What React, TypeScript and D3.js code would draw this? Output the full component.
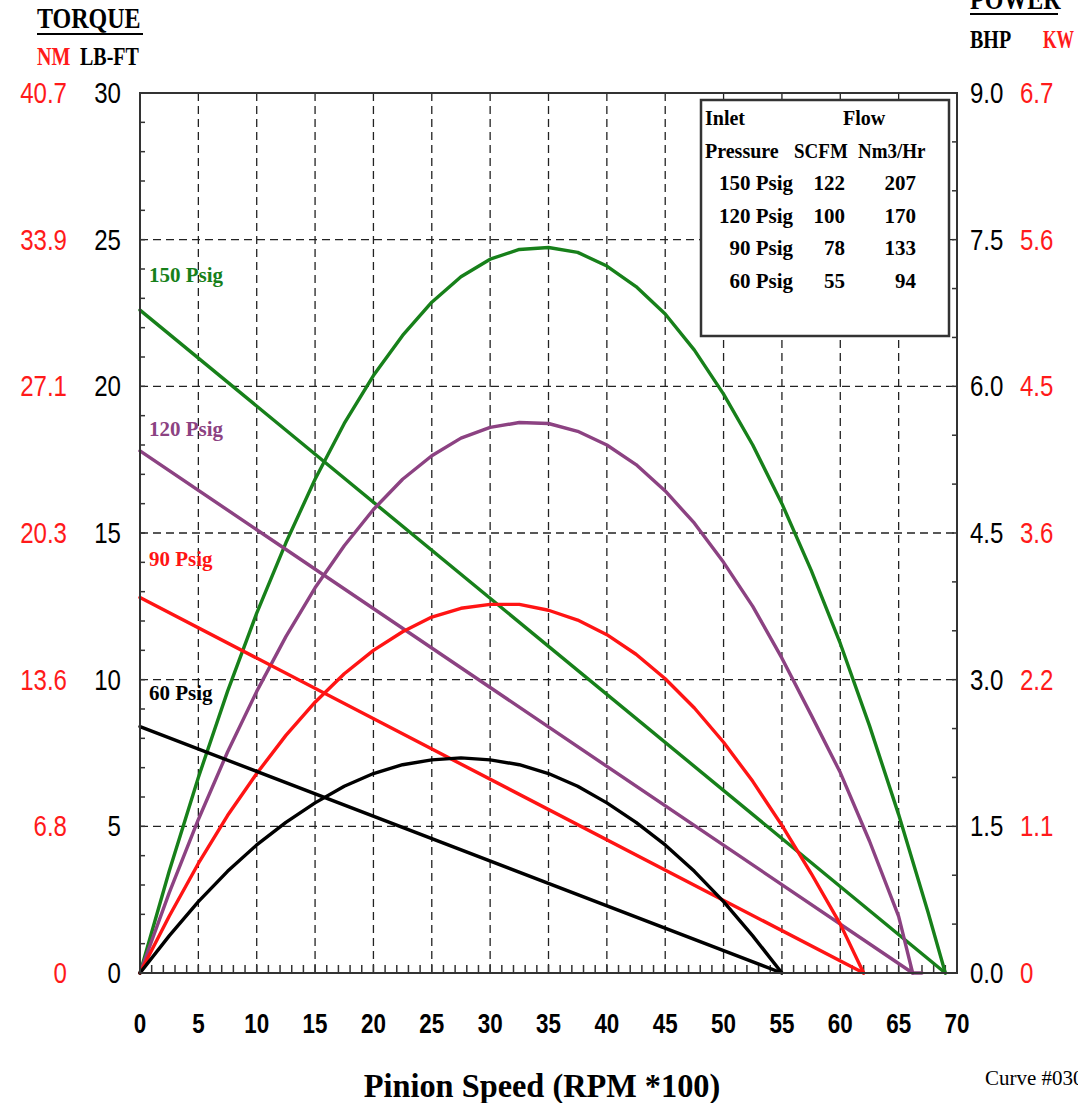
import * as d3 from "d3";

// speed in RPM*100, torque in LB-FT, power in BHP
const speedTicks = [0, 5, 10, 15, 20, 25, 30, 35, 40, 45, 50, 55, 60, 65, 70];
const torqueTicks = [0, 5, 10, 15, 20, 25, 30];
const nmLabels = ["0", "6.8", "13.6", "20.3", "27.1", "33.9", "40.7"];
const bhpLabels = ["0.0", "1.5", "3.0", "4.5", "6.0", "7.5", "9.0"];
const kwLabels = ["0", "1.1", "2.2", "3.6", "4.5", "5.6", "6.7"];

const pressures = ["150 Psig", "120 Psig", "90 Psig", "60 Psig"];
const scfm = [122, 100, 78, 55];
const nm3hr = [207, 170, 133, 94];

const torque150 = [[0, 22.6], [69, 0]];
const torque120 = [[0, 17.8], [66.2, 0]];
const torque90 = [[0, 12.8], [62, 0]];
const torque60 = [[0, 8.4], [55, 0]];

const power150 = [[0, 0], [2.5, 1.04], [5, 2.0], [7.5, 2.88], [10, 3.68], [12.5, 4.4], [15, 5.05], [17.5, 5.62], [20, 6.11], [22.5, 6.52], [25, 6.86], [27.5, 7.12], [30, 7.3], [32.5, 7.4], [35, 7.42], [37.5, 7.37], [40, 7.23], [42.5, 7.02], [45, 6.74], [47.5, 6.37], [50, 5.92], [52.5, 5.4], [55, 4.8], [57.5, 4.12], [60, 3.37], [62.5, 2.53], [65, 1.62], [67.5, 0.63], [69, 0]];
const power120 = [[0, 0], [2.5, 0.82], [5, 1.57], [7.5, 2.26], [10, 2.88], [12.5, 3.44], [15, 3.94], [17.5, 4.37], [20, 4.74], [22.5, 5.05], [25, 5.29], [27.5, 5.47], [30, 5.58], [32.5, 5.63], [35, 5.62], [37.5, 5.54], [40, 5.4], [42.5, 5.2], [45, 4.93], [47.5, 4.6], [50, 4.2], [52.5, 3.75], [55, 3.22], [57.5, 2.64], [60, 2.05], [62.5, 1.35], [65, 0.58], [66.2, 0], [67, 0]];
const power90 = [[0, 0], [2.5, 0.58], [5, 1.12], [7.5, 1.61], [10, 2.04], [12.5, 2.43], [15, 2.77], [17.5, 3.06], [20, 3.3], [22.5, 3.49], [25, 3.64], [27.5, 3.73], [30, 3.77], [32.5, 3.77], [35, 3.71], [37.5, 3.61], [40, 3.46], [42.5, 3.26], [45, 3.01], [47.5, 2.71], [50, 2.36], [52.5, 1.96], [55, 1.51], [57.5, 1.02], [60, 0.5], [62, 0]];
const power60 = [[0, 0], [2.5, 0.38], [5, 0.73], [7.5, 1.04], [10, 1.31], [12.5, 1.54], [15, 1.74], [17.5, 1.91], [20, 2.04], [22.5, 2.13], [25, 2.18], [27.5, 2.2], [30, 2.18], [32.5, 2.13], [35, 2.04], [37.5, 1.91], [40, 1.74], [42.5, 1.54], [45, 1.31], [47.5, 1.04], [50, 0.73], [52.5, 0.38], [55, 0]];

const series = [
  { name: "150 Psig", color: "#17801a", torque: torque150, power: power150, labelY: 282 },
  { name: "120 Psig", color: "#8c4282", torque: torque120, power: power120, labelY: 436 },
  { name: "90 Psig", color: "#ff1414", torque: torque90, power: power90, labelY: 566 },
  { name: "60 Psig", color: "#000000", torque: torque60, power: power60, labelY: 700 },
];

const SERIF = "'Liberation Serif', 'DejaVu Serif', serif";
const SANS = "'Liberation Sans', Arial, sans-serif";
const RED = "#ff1a1a";

function T({ x, y, size, fill = "#000", anchor = "start", family = SERIF, weight = "bold", sx = 0.8, children }: any) {
  return (
    <text
      transform={`translate(${x},${y}) scale(${sx},1)`}
      fontSize={size}
      fill={fill}
      textAnchor={anchor}
      fontFamily={family}
      fontWeight={weight}
    >
      {children}
    </text>
  );
}

export default function App() {
  const width = 1078;
  const height = 1103;
  const left = 140, right = 957, top = 93, bottom = 973;

  const x = d3.scaleLinear().domain([0, 70]).range([left, right]);
  const yT = d3.scaleLinear().domain([0, 30]).range([bottom, top]);
  const yP = d3.scaleLinear().domain([0, 9]).range([bottom, top]);

  const torqueLine = d3.line<number[]>().x((d) => x(d[0])).y((d) => yT(d[1]));
  const powerLine = d3.line<number[]>().x((d) => x(d[0])).y((d) => yP(d[1]));

  const gridX = speedTicks.filter((d) => d > 0 && d < 70);
  const gridY = torqueTicks.filter((d) => d > 0 && d < 30);

  const legX = 701, legY = 100, legW = 248, legH = 236;

  return (
    <svg
      width={width}
      height={height}
      style={{ position: "absolute", left: 0, top: 0, background: "#fff" }}
    >
      <rect width={width} height={height} fill="#fff" />

      {/* grid */}
      <g stroke="#222" strokeWidth={1.3} strokeDasharray="8,5">
        {gridX.map((d) => (
          <line key={"gx" + d} x1={x(d)} x2={x(d)} y1={top} y2={bottom} />
        ))}
        {gridY.map((d) => (
          <line key={"gy" + d} x1={left} x2={right} y1={yT(d)} y2={yT(d)} />
        ))}
      </g>

      {/* minor ticks */}
      <g stroke="#333" strokeWidth={1.5}>
        {d3.range(1, 70).map((d) => (
          <line key={"tx" + d} x1={x(d)} x2={x(d)} y1={bottom} y2={bottom - 8} />
        ))}
        {d3.range(1, 30).map((d) => (
          <line key={"tl" + d} x1={left} x2={left + 5} y1={yT(d)} y2={yT(d)} />
        ))}
        {d3.range(0.5, 9, 0.5).map((d) => (
          <line key={"tr" + d} x1={right} x2={right - 5} y1={yP(d)} y2={yP(d)} />
        ))}
      </g>

      {/* legend box */}
      <rect x={legX} y={legY} width={legW} height={legH} fill="#fff" stroke="#333" strokeWidth={2.5} />
      <T x={705} y={125} size={20} sx={1}>Inlet</T>
      <T x={843} y={125} size={20} sx={1}>Flow</T>
      <T x={705} y={158} size={20} sx={1}>Pressure</T>
      <T x={794} y={158} size={20} sx={0.95}>SCFM</T>
      <T x={858} y={158} size={20} sx={0.95}>Nm3/Hr</T>
      {pressures.map((p, i) => (
        <g key={p}>
          <T x={793} y={190 + i * 32.7} size={20} sx={1.05} anchor="end">{p}</T>
          <T x={845} y={190 + i * 32.7} size={20} sx={1.05} anchor="end">{scfm[i]}</T>
          <T x={916} y={190 + i * 32.7} size={20} sx={1.05} anchor="end">{nm3hr[i]}</T>
        </g>
      ))}

      {/* curves */}
      <g fill="none" strokeWidth={3.4} strokeLinejoin="round" strokeLinecap="round">
        {series.map((s) => (
          <g key={s.name} stroke={s.color}>
            <path d={torqueLine(s.torque) || ""} />
            <path d={powerLine(s.power) || ""} />
          </g>
        ))}
      </g>

      {/* curve labels */}
      {series.map((s) => (
        <T key={"lab" + s.name} x={149} y={s.labelY} size={20} sx={1.05} fill={s.color}>
          {s.name}
        </T>
      ))}

      {/* frame */}
      <rect x={left} y={top} width={right - left} height={bottom - top} fill="none" stroke="#333" strokeWidth={2} />

      {/* left axis labels */}
      {torqueTicks.map((d, i) => (
        <g key={"ly" + d}>
          <T x={121} y={yT(d) + 10} size={29} anchor="end" family={SANS} weight="normal" sx={0.83}>{d}</T>
          <T x={67} y={yT(d) + 10} size={29} anchor="end" family={SANS} weight="normal" sx={0.83} fill={RED}>{nmLabels[i]}</T>
        </g>
      ))}
      {/* right axis labels */}
      {bhpLabels.map((b, i) => (
        <g key={"ry" + b}>
          <T x={970} y={yT(torqueTicks[i]) + 10} size={29} family={SANS} weight="normal" sx={0.83}>{b}</T>
          <T x={1020} y={yT(torqueTicks[i]) + 10} size={29} family={SANS} weight="normal" sx={0.83} fill={RED}>{kwLabels[i]}</T>
        </g>
      ))}
      {/* x axis labels */}
      {speedTicks.map((d) => (
        <T key={"xl" + d} x={x(d)} y={1033} size={27} anchor="middle" family={SANS} weight="bold" sx={0.83}>{d}</T>
      ))}

      {/* headers */}
      <T x={37} y={28} size={30}>TORQUE</T>
      <line x1={37} x2={143} y1={34} y2={34} stroke="#000" strokeWidth={2} />
      <T x={37} y={65} size={25} fill={RED}>NM</T>
      <T x={80} y={65} size={25}>LB-FT</T>

      <T x={970} y={9} size={30}>POWER</T>
      <line x1={970} x2={1058} y1={14} y2={14} stroke="#000" strokeWidth={2} />
      <T x={970} y={48} size={25}>BHP</T>
      <T x={1043} y={48} size={25} sx={0.7} fill={RED}>KW</T>

      <T x={542} y={1097} size={33} sx={0.98} anchor="middle">Pinion Speed (RPM *100)</T>
      <T x={985} y={1085} size={21} sx={1} weight="normal">Curve #030</T>
    </svg>
  );
}
